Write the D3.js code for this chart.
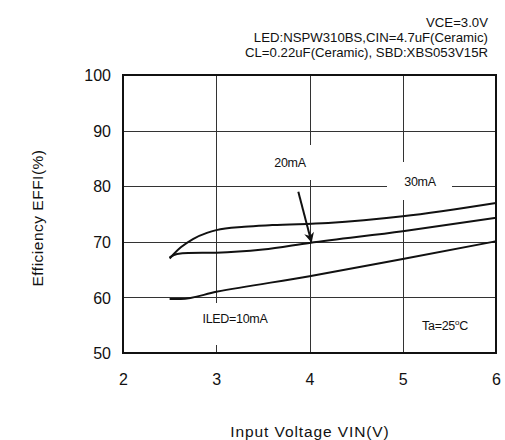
<!DOCTYPE html>
<html><head><meta charset="utf-8">
<script src="https://cdn.jsdelivr.net/npm/d3@7"></script>
<style>
html,body{margin:0;padding:0;background:#fff;}
text{font-family:"Liberation Sans",Arial,sans-serif;fill:#111;}
</style></head>
<body>
<svg id="c" width="505" height="440"></svg>
<script>
// ---- data ----
const xTicks = [2, 3, 4, 5, 6];
const yTicks = [50, 60, 70, 80, 90, 100];
const vin30 = [2.5, 2.55, 2.62, 2.75, 2.9, 3.0, 3.3, 3.6, 4.2, 5.0, 6.0];
const eff30 = [67.0, 67.9, 69.0, 70.5, 71.6, 72.1, 72.7, 73.0, 73.4, 74.6, 77.0];
const vin20 = [2.5, 2.58, 2.7, 3.0, 3.5, 4.0, 5.0, 6.0];
const eff20 = [67.2, 67.8, 68.0, 68.05, 68.6, 69.8, 71.9, 74.3];
const vin10 = [2.5, 2.62, 3.0, 4.0, 5.0, 6.0];
const eff10 = [59.7, 59.7, 61.0, 63.8, 66.9, 70.1];
const arrowFrom = [3.88, 79.0];
const arrowTo = [4.02, 70.0];
const header = ["VCE=3.0V", "LED:NSPW310BS,CIN=4.7uF(Ceramic)", "CL=0.22uF(Ceramic), SBD:XBS053V15R"];

// ---- layout ----
const svg = d3.select("#c");
const x = d3.scaleLinear().domain([2, 6]).range([123, 496]);
const y = d3.scaleLinear().domain([50, 100]).range([353, 75]);

// grid
const g = svg.append("g");
g.selectAll(".gx").data(xTicks.slice(1, -1)).join("line")
  .attr("x1", d => Math.round(x(d)) + 0.5).attr("x2", d => Math.round(x(d)) + 0.5)
  .attr("y1", y(100)).attr("y2", y(50))
  .attr("stroke", "#333").attr("stroke-width", 1);
g.selectAll(".gy").data(yTicks.slice(1, -1)).join("line")
  .attr("x1", x(2)).attr("x2", x(6))
  .attr("y1", d => Math.round(y(d)) + 0.5).attr("y2", d => Math.round(y(d)) + 0.5)
  .attr("stroke", "#333").attr("stroke-width", 1);

// white label boxes over grid
const boxes = [
  [265, 145, 50, 35],
  [387, 162, 65, 38],
  [190, 303, 90, 42]
];
svg.selectAll(".box").data(boxes).join("rect")
  .attr("x", d => d[0]).attr("y", d => d[1]).attr("width", d => d[2]).attr("height", d => d[3])
  .attr("fill", "#fff");

// frame
svg.append("rect").attr("x", x(2)).attr("y", y(100))
  .attr("width", x(6) - x(2)).attr("height", y(50) - y(100))
  .attr("fill", "none").attr("stroke", "#111").attr("stroke-width", 2);

// axes (labels only)
const xAxis = d3.axisBottom(x).tickValues(xTicks).tickSize(0).tickPadding(0).tickFormat(d3.format("d"));
const ax = svg.append("g").attr("transform", `translate(0,${y(50)})`).call(xAxis);
ax.select(".domain").remove();
ax.selectAll("text").attr("y", 32).attr("dy", 0).attr("font-size", 16).attr("fill", "#111");

const yAxis = d3.axisLeft(y).tickValues(yTicks).tickSize(0).tickPadding(0).tickFormat(d3.format("d"));
const ay = svg.append("g").attr("transform", `translate(${x(2)},0)`).call(yAxis);
ay.select(".domain").remove();
ay.selectAll("text").attr("x", -12).attr("dy", "0.35em").attr("font-size", 16).attr("fill", "#111");

// curves
const line = d3.line().x(d => x(d[0])).y(d => y(d[1])).curve(d3.curveMonotoneX);
const series = [
  d3.zip(vin30, eff30),
  d3.zip(vin20, eff20),
  d3.zip(vin10, eff10)
];
svg.selectAll(".curve").data(series).join("path")
  .attr("d", line).attr("fill", "none").attr("stroke", "#111").attr("stroke-width", 2);

// arrow
svg.append("defs").append("marker").attr("id", "ah")
  .attr("viewBox", "0 0 10 10").attr("refX", 9).attr("refY", 5)
  .attr("markerWidth", 6).attr("markerHeight", 5).attr("orient", "auto")
  .append("path").attr("d", "M0,0 L10,5 L0,10 L3,5 z").attr("fill", "#111");
svg.append("line")
  .attr("x1", x(arrowFrom[0])).attr("y1", y(arrowFrom[1]))
  .attr("x2", x(arrowTo[0])).attr("y2", y(arrowTo[1]))
  .attr("stroke", "#111").attr("stroke-width", 2).attr("marker-end", "url(#ah)");

// labels
const labels = [
  ["20mA", 290, 167],
  ["30mA", 420, 186],
  ["ILED=10mA", 235, 323]
];
svg.selectAll(".lab").data(labels).join("text")
  .attr("x", d => d[1]).attr("y", d => d[2]).attr("text-anchor", "middle")
  .attr("font-size", 12.5).attr("letter-spacing", -0.3).text(d => d[0]);

const ta = svg.append("text").attr("x", 445).attr("y", 330).attr("text-anchor", "middle")
  .attr("font-size", 12.5).attr("letter-spacing", -0.3);
ta.append("tspan").text("Ta=25");
ta.append("tspan").attr("font-size", 8).attr("dy", -5).text("o");
ta.append("tspan").attr("dy", 5).text("C");

// header
svg.selectAll(".hdr").data(header).join("text")
  .attr("x", 488).attr("y", (d, i) => 27 + i * 15).attr("text-anchor", "end")
  .attr("font-size", 13.2).text(d => d);

// axis titles
svg.append("text").attr("x", 310).attr("y", 437).attr("text-anchor", "middle")
  .attr("font-size", 15.5).attr("letter-spacing", 0.9).text("Input Voltage VIN(V)");
svg.append("text").attr("transform", "translate(43,218) rotate(-90)").attr("text-anchor", "middle")
  .attr("font-size", 15.5).attr("letter-spacing", 0.5).text("Efficiency EFFI(%)");
</script>
</body></html>
